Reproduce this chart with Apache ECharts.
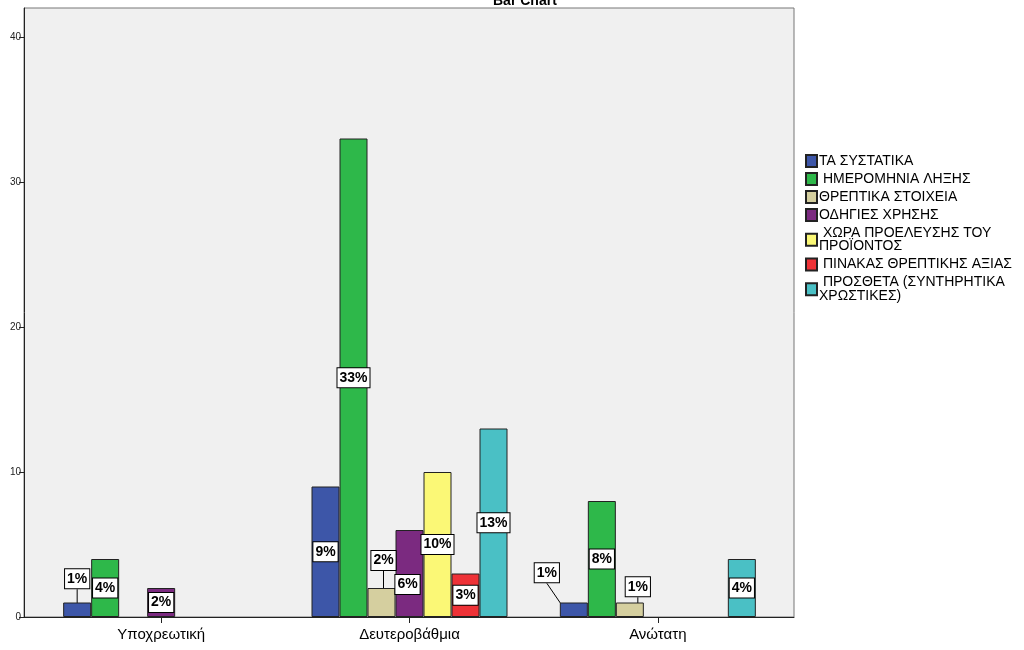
<!DOCTYPE html>
<html>
<head>
<meta charset="utf-8">
<script src="https://cdn.jsdelivr.net/npm/echarts@6/dist/echarts.min.js"></script>
<style>
html,body{margin:0;padding:0;background:#fff;}
#chart{width:1024px;height:650px;}
</style>
</head>
<body>
<div id="chart"></div>
<script>
// ---- data ----
const categories = ['Υποχρεωτική', 'Δευτεροβάθμια', 'Ανώτατη'];
const seriesNames = [
  'ΤΑ ΣΥΣΤΑΤΙΚΑ',
  ' ΗΜΕΡΟΜΗΝΙΑ ΛΗΞΗΣ',
  'ΘΡΕΠΤΙΚΑ ΣΤΟΙΧΕΙΑ',
  'ΟΔΗΓΙΕΣ ΧΡΗΣΗΣ',
  ' ΧΩΡΑ ΠΡΟΕΛΕΥΣΗΣ ΤΟΥ ΠΡΟΪΟΝΤΟΣ',
  ' ΠΙΝΑΚΑΣ ΘΡΕΠΤΙΚΗΣ ΑΞΙΑΣ',
  ' ΠΡΟΣΘΕΤΑ (ΣΥΝΤΗΡΗΤΙΚΑ ΧΡΩΣΤΙΚΕΣ)'
];
const legendLabels = [
  'ΤΑ ΣΥΣΤΑΤΙΚΑ',
  ' ΗΜΕΡΟΜΗΝΙΑ ΛΗΞΗΣ',
  'ΘΡΕΠΤΙΚΑ ΣΤΟΙΧΕΙΑ',
  'ΟΔΗΓΙΕΣ ΧΡΗΣΗΣ',
  ' ΧΩΡΑ ΠΡΟΕΛΕΥΣΗΣ ΤΟΥ\nΠΡΟΪΟΝΤΟΣ',
  ' ΠΙΝΑΚΑΣ ΘΡΕΠΤΙΚΗΣ ΑΞΙΑΣ',
  ' ΠΡΟΣΘΕΤΑ (ΣΥΝΤΗΡΗΤΙΚΑ\nΧΡΩΣΤΙΚΕΣ)'
];
const systatika   = [1, 9, 1];
const imerominia  = [4, 33, 8];
const threptika   = [0, 2, 1];
const odigies     = [2, 6, 0];
const xora        = [0, 10, 0];
const pinakas     = [0, 3, 0];
const prostheta   = [0, 13, 4];
const seriesValues = [systatika, imerominia, threptika, odigies, xora, pinakas, prostheta];

const systatikaPct  = ['1%', '9%', '1%'];
const imerominiaPct = ['4%', '33%', '8%'];
const threptikaPct  = ['', '2%', '1%'];
const odigiesPct    = ['2%', '6%', ''];
const xoraPct       = ['', '10%', ''];
const pinakasPct    = ['', '3%', ''];
const prosthetaPct  = ['', '13%', '4%'];
const seriesPct = [systatikaPct, imerominiaPct, threptikaPct, odigiesPct, xoraPct, pinakasPct, prosthetaPct];

const yTicks = [0, 10, 20, 30, 40];

// ---- styling ----
const colors = ['#3D56A8', '#2EB84A', '#D5CF9F', '#7B2A80', '#FBF876', '#EE3237', '#4AC0C5'];
// label displacement (layout only): key "series-category" -> [dx, dy]
const labelShift = {
  '0-0': [0, -31],
  '2-1': [2, -42],
  '3-1': [-2, 11],
  '0-2': [-27, -37],
  '2-2': [8, -23]
};

const series = seriesValues.map((vals, si) => ({
  name: seriesNames[si],
  type: 'bar',
  xAxisIndex: 1,
  yAxisIndex: 1,
  barWidth: 28,
  barGap: '0%',
  itemStyle: { color: colors[si], borderColor: '#222', borderWidth: 1 },
  data: vals.map((v, ci) => {
    const shifted = labelShift[si + '-' + ci];
    return {
      value: v === 0 ? null : v,
      label: { show: v !== 0 },
      labelLine: { show: !!shifted, lineStyle: { color: '#000', width: 1 } }
    };
  }),
  label: {
    position: 'inside',
    formatter: p => seriesPct[si][p.dataIndex],
    color: '#000',
    fontFamily: 'Liberation Sans, Arial, sans-serif',
    fontWeight: 'bold',
    fontSize: 14,
    backgroundColor: '#fff',
    borderColor: '#000',
    borderWidth: 1,
    padding: [3, 2, 2, 2]
  },
  labelLayout: function (params) {
    const s = labelShift[params.seriesIndex + '-' + params.dataIndex];
    if (s) return { dx: s[0], dy: s[1] };
    return {};
  }
}));

const chart = echarts.init(document.getElementById('chart'));
chart.setOption({
  animation: false,
  textStyle: { fontFamily: 'Liberation Sans, Arial, sans-serif' },
  title: {
    text: 'Bar Chart',
    left: 488,
    top: -11,
    textStyle: { fontSize: 14, fontWeight: 'bold', color: '#000' }
  },
  legend: {
    orient: 'vertical',
    left: 805,
    top: 154,
    padding: 0,
    itemWidth: 11,
    itemHeight: 12,
    itemGap: 4,
    icon: 'rect',
    selectedMode: false,
    formatter: name => legendLabels[seriesNames.indexOf(name)],
    textStyle: { fontSize: 14, color: '#000', lineHeight: 13.5, padding: [0, 0, 0, -3] },
    data: seriesNames
  },
  grid: [
    { left: 24, top: 8, width: 770, height: 609, show: true, backgroundColor: '#F0F0F0', borderColor: '#777', borderWidth: 1 },
    { left: 37, top: 8, width: 745, height: 609 }
  ],
  xAxis: [
    {
      gridIndex: 0, type: 'value', min: 0, max: 1,
      axisLine: { show: true, onZero: false, lineStyle: { color: '#222', width: 1 } },
      axisTick: { show: false }, axisLabel: { show: false }, splitLine: { show: false }
    },
    {
      gridIndex: 1, type: 'category', data: categories,
      axisLine: { show: false },
      axisTick: { show: true, alignWithLabel: true, length: 6, lineStyle: { color: '#222' } },
      axisLabel: { color: '#000', fontSize: 15, margin: 10 }
    }
  ],
  yAxis: [
    {
      gridIndex: 0, type: 'value', min: 0, max: 42,
      axisLine: { show: true, lineStyle: { color: '#222', width: 1 } },
      axisTick: { show: true, length: 5, customValues: yTicks, lineStyle: { color: '#222' } },
      axisLabel: { color: '#222', fontSize: 10, margin: 3, customValues: yTicks },
      splitLine: { show: false }
    },
    {
      gridIndex: 1, type: 'value', min: 0, max: 42, show: false
    }
  ],
  series: series
});
</script>
</body>
</html>
